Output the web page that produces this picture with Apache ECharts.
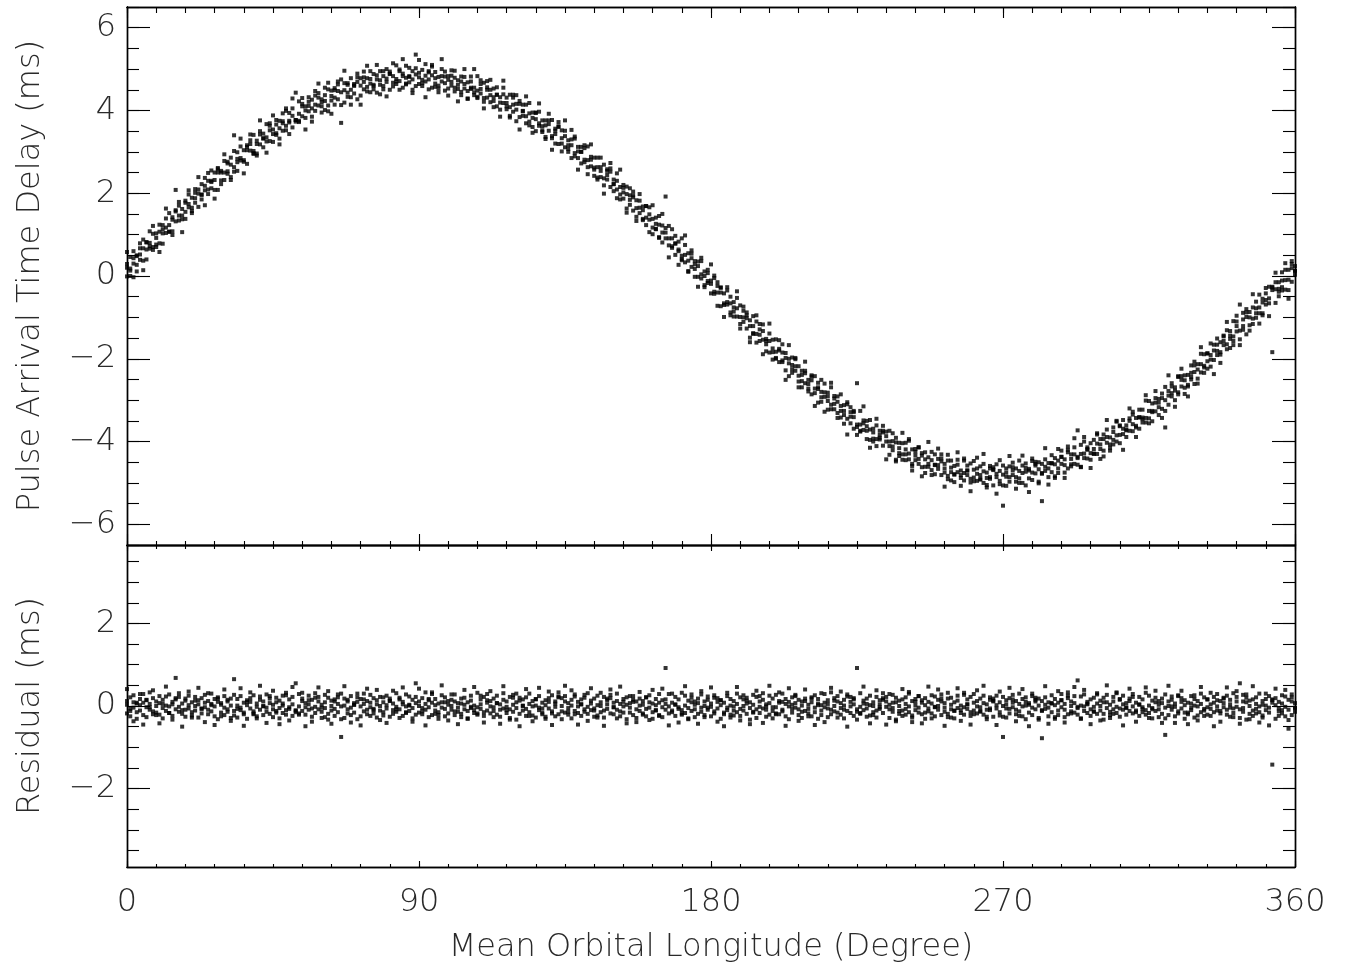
<!DOCTYPE html>
<html><head><meta charset="utf-8">
<script src="https://cdn.jsdelivr.net/npm/echarts@6/dist/echarts.min.js"></script>
<style>html,body{margin:0;padding:0;background:#fff}#chart{width:1348px;height:972px}</style>
</head><body><div id="chart"></div>
<script>
// Mean orbital longitude (degree) of each group of readings
const longitude = [
0,1,2,3,4,5,6,7,8,9,10,11,12,13,14,15,16,17,18,19,20,21,22,23,24,25,26,27,28,29,
30,31,32,33,34,35,36,37,38,39,40,41,42,43,44,45,46,47,48,49,50,51,52,53,54,55,56,57,58,59,
60,61,62,63,64,65,66,67,68,69,70,71,72,73,74,75,76,77,78,79,80,81,82,83,84,85,86,87,88,89,
90,91,92,93,94,95,96,97,98,99,100,101,102,103,104,105,106,107,108,109,110,111,112,113,114,115,116,117,118,119,
120,121,122,123,124,125,126,127,128,129,130,131,132,133,134,135,136,137,138,139,140,141,142,143,144,145,146,147,148,149,
150,151,152,153,154,155,156,157,158,159,160,161,162,163,164,165,166,167,168,169,170,171,172,173,174,175,176,177,178,179,
180,181,182,183,184,185,186,187,188,189,190,191,192,193,194,195,196,197,198,199,200,201,202,203,204,205,206,207,208,209,
210,211,212,213,214,215,216,217,218,219,220,221,222,223,224,225,226,227,228,229,230,231,232,233,234,235,236,237,238,239,
240,241,242,243,244,245,246,247,248,249,250,251,252,253,254,255,256,257,258,259,260,261,262,263,264,265,266,267,268,269,
270,271,272,273,274,275,276,277,278,279,280,281,282,283,284,285,286,287,288,289,290,291,292,293,294,295,296,297,298,299,
300,301,302,303,304,305,306,307,308,309,310,311,312,313,314,315,316,317,318,319,320,321,322,323,324,325,326,327,328,329,
330,331,332,333,334,335,336,337,338,339,340,341,342,343,344,345,346,347,348,349,350,351,352,353,354,355,356,357,358,359,
360];

// Pulse arrival time delay (ms), readings at each longitude above
const delayMs = [
[.29,-.01,.20],[.18,.46,0],[.43,.30,.60],[.27,.48,.11],[.67,.52,.39],[.37,.67,.88],[.64,.81,.40],[.80,.66,1.08],[.63,1.02,.70],[.92,1.03,.76],
[1.24,1.07,.79],[1.03,1.23,.78],[1.17,1.39,1.04],[1.52,1.23,1.07],[1.42,1.36,1.08],[1.56,1.32,2.08],[1.34,1.46,1.79],[1.37,1.62,1.46],[1.77,1.38,1.82],[1.66,1.74,1.97],
[1.57,1.89,1.65],[1.88,2.10,1.77],[1.67,2.09,1.99],[1.96,2.22,1.85],[2.37,2.07,2.18],[1.98,2.30,2.09],[2.55,2.12,2.30],[2.08,2.50,2.32],[2.50,2.08,2.61],[2.50,2.31,2.54],
[2.50,2.78,2.32],[2.76,2.53,2.72],[2.39,2.69,2.86],[2.63,2.52,3.40],[2.54,2.83,2.99],[2.79,2.85,3.13],[2.80,3.04,2.76],[3.16,3.04,2.71],[3.28,3.03,3.19],[3.02,3.41,2.97],
[3.27,3.19,2.96],[3.50,3.18,3.42],[3.33,3.11,3.44],[3.67,3.25,3.35],[3.52,3.26,3.63],[3.24,3.54,3.43],[3.77,3.45,3.66],[3.32,3.75,3.57],[3.93,3.51,3.69],[3.63,4.05,3.52],
[3.75,3.94,3.71],[3.87,3.59,4.05],[3.73,4.43,3.77],[4.22,3.92,3.75],[4.10,3.86,4.16],[4.00,4.10,3.82],[4.32,3.98,4.11],[3.85,4.26,4.05],[4.47,3.99,4.14],[4.31,4.42,4.12],
[3.95,4.27,4.10],[4.55,4.23,4.37],[3.98,4.51,4.12],[4.48,4.35,4.24],[4.54,4.14,4.31],[4.63,4.47,4.27],[4.75,4.44,3.70],[4.66,4.49,4.19],[4.62,4.43,4.66],[4.32,4.78,4.50],
[4.64,4.41,4.60],[4.80,4.27,4.69],[4.60,4.78,4.36],[4.69,4.51,4.94],[4.57,4.78,4.46],[4.76,4.65,4.95],[4.51,4.88,4.62],[4.75,4.85,4.43],[4.62,4.95,4.73],[4.59,4.83,4.51],
[5.00,4.77,4.69],[4.94,4.50,4.89],[4.67,4.83,4.58],[5.09,4.76,4.64],[4.99,4.71,4.95],[4.55,4.83,4.89],[4.63,4.79,5.08],[4.68,5.03,4.81],[4.50,4.95,4.75],[4.59,4.87,5.35],
[4.64,4.91,4.80],[4.66,4.98,4.59],[5.12,4.70,4.84],[4.51,4.92,4.75],[5.06,4.85,4.55],[4.65,4.78,4.93],[4.44,4.81,4.60],[5.00,4.70,4.83],[4.48,4.94,4.66],[4.74,4.53,4.83],
[4.60,4.84,4.69],[4.46,4.79,4.96],[4.52,4.62,4.73],[4.45,4.82,4.37],[4.64,4.53,4.81],[4.47,4.68,4.29],[4.70,4.52,4.82],[4.37,4.55,4.44],[4.83,4.30,4.48],[4.64,4.41,4.52],
[4.21,4.67,4.30],[4.50,4.31,4.71],[4.37,4.20,4.50],[4.23,4.53,4.32],[4.38,4.10,4.56],[4.19,4.32,4.02],[4.39,4.18,4.55],[4.03,4.18,4.31],[4.38,4.08,3.87],[4.14,3.97,4.38],
[4.02,4.16,3.74],[4.23,3.84,4.16],[3.98,3.87,4.14],[3.69,3.86,4.14],[3.93,3.73,4.18],[3.82,3.60,3.95],[3.50,3.79,3.95],[3.63,3.69,3.97],[3.52,3.76,3.48],[3.76,3.64,3.31],
[3.76,3.51,3.67],[3.38,3.77,3.33],[3.51,3.43,3.20],[3.62,3.72,3.19],[3.52,3.20,3.33],[3.38,3.11,3.51],[3.28,3.00,3.16],[3.30,2.85,3.16],[3.32,2.97,3.37],[3.01,2.85,3.12],
[3.00,2.72,3.12],[2.81,3.09,2.75],[2.80,3.13,2.63],[2.81,2.65,2.88],[2.42,2.86,2.62],[2.63,2.86,2.38],[2.63,2.39,2.54],[2.69,2.36,2.19],[2.54,2.44,2.33],[2.52,2.15,2.60],
[2.22,2.33,2.05],[2.30,2.09,2.48],[1.97,2.15,1.85],[2.20,2.02,2.13],[1.63,2.16,1.98],[1.72,1.95,1.84],[2.04,1.58,1.95],[1.64,1.83,1.43],[1.65,1.82,1.52],[1.68,1.38,1.59],
[1.41,1.69,1.23],[1.49,1.36,1.66],[1.17,1.38,1.01],[1.41,1.26,1.13],[.94,1.24,1.45],[1.05,1.22,.81],[1.05,.91,1.92],[.74,.91,1.21],[.72,.91,.68],[.97,.51,.79],
[.60,.83,.64],[.38,.91,.49],[.51,.33,.75],[.37,.55,.12],[.43,.22,.54],[.17,.28,-.02],[.35,-.02,.24],[.04,-.06,.36],[.11,-.22,0],[.07,-.17,.15],
[-.42,-.19,-.11],[-.43,.01,-.38],[-.24,-.40,-.15],[-.73,-.40,-.28],[-.70,-.42,-.66],[-.35,-.63,-.69],[-.50,-.66,-.95],[-.63,-.98,-.76],[-.53,-.98,-.78],[-.71,-.99,-1.16],
[-.84,-1.11,-1.00],[-.95,-1.27,-.88],[-1.49,-1.07,-1.21],[-.97,-1.38,-1.21],[-1.61,-1.40,-1.10],[-1.29,-1.42,-1.57],[-1.17,-1.54,-1.33],[-1.82,-1.52,-1.65],[-1.39,-1.85,-1.57],[-1.75,-1.54,-1.84],
[-1.98,-1.53,-1.83],[-1.80,-2.08,-1.76],[-2.04,-1.65,-2.08],[-1.98,-2.28,-1.86],[-2.11,-2.00,-2.42],[-1.97,-2.15,-2.34],[-2.18,-2.29,-2.01],[-2.55,-2.18,-2.41],[-2.29,-2.69,-2.39],[-2.29,-2.59,-2.35],
[-2.72,-2.51,-2.61],[-2.40,-2.86,-2.52],[-2.72,-2.42,-2.83],[-2.69,-3.06,-2.58],[-2.80,-2.93,-3.04],[-2.81,-2.60,-2.92],[-2.82,-3.23,-2.91],[-3.11,-2.69,-3.22],[-2.90,-3.22,-3.09],[-3.04,-3.31,-2.91],
[-3.14,-3.42,-3.26],[-3.12,-3.57,-3.26],[-3.10,-3.45,-3.05],[-3.40,-3.56,-3.29],[-3.41,-3.69,-3.29],[-3.59,-2.59,-3.65],[-3.59,-3.26,-3.76],[-3.56,-3.72,-3.49],[-3.94,-3.50,-3.74],[-3.71,-3.48,-3.96],
[-3.69,-3.93,-3.78],[-3.61,-3.94,-4.11],[-3.74,-3.84,-3.95],[-3.74,-3.62,-4.10],[-4.00,-3.87,-3.76],[-4.11,-4.32,-4.00],[-4.21,-3.80,-4.12],[-4.02,-4.44,-3.91],[-4.35,-4.03,-4.16],[-4.31,-4.04,-4.44],
[-4.31,-4.03,-4.19],[-4.43,-3.98,-4.29],[-4.54,-4.19,-4.59],[-4.34,-4.18,-4.45],[-4.42,-4.14,-4.54],[-4.34,-4.62,-4.28],[-4.43,-4.76,-4.26],[-4.54,-4.38,-4.61],[-4.25,-4.69,-4.45],[-4.56,-4.79,-4.31],
[-4.66,-4.42,-4.57],[-4.81,-4.48,-4.31],[-4.75,-4.65,-4.54],[-4.83,-4.46,-4.91],[-4.63,-4.74,-4.46],[-4.80,-4.59,-4.98],[-4.56,-4.74,-4.44],[-4.88,-4.70,-4.81],[-4.41,-4.94,-4.76],[-4.58,-4.81,-4.70],
[-4.99,-4.53,-4.90],[-4.68,-4.87,-4.47],[-4.78,-4.95,-4.65],[-4.90,-4.60,-4.81],[-4.72,-5.00,-4.54],[-4.88,-4.75,-5.05],[-4.65,-4.86,-4.90],[-4.67,-5.06,-4.62],[-4.86,-4.78,-4.55],[-5.03,-4.71,-4.95],
[-4.80,-4.58,-5.55],[-5.07,-4.65,-4.75],[-4.86,-4.60,-4.97],[-4.51,-4.81,-4.70],[-4.97,-4.65,-4.86],[-4.46,-4.89,-4.71],[-5.00,-4.58,-4.76],[-4.64,-5.06,-4.53],[-4.70,-4.89,-4.66],[-4.75,-4.47,-4.93],
[-4.54,-4.77,-4.58],[-4.97,-4.67,-4.50],[-4.78,-4.54,-5.44],[-4.61,-4.71,-4.43],[-4.86,-4.52,-4.65],[-4.33,-4.74,-4.53],[-4.88,-4.40,-4.55],[-4.65,-4.76,-4.46],[-4.22,-4.54,-4.37],[-4.75,-4.43,-4.57],
[-4.12,-4.65,-4.26],[-4.55,-4.42,-4.31],[-4.54,-4.14,-4.31],[-4.56,-4.40,-3.73],[-4.61,-4.30,-4.08],[-4.40,-4.00,-4.29],[-4.41,-4.14,-4.20],[-4.44,-4.04,-4.28],[-3.96,-4.30,-4.18],[-3.80,-4.30,-4.05],
[-4.18,-4.07,-3.94],[-4.22,-3.83,-4.36],[-3.89,-4.03,-3.71],[-4.07,-3.90,-4.22],[-3.96,-3.66,-3.77],[-3.85,-4.00,-3.52],[-3.84,-3.63,-4.04],[-3.69,-3.82,-3.48],[-3.89,-3.61,-3.71],[-3.44,-3.74,-3.50],
[-3.75,-3.58,-3.28],[-3.62,-3.43,-3.66],[-3.23,-3.69,-3.41],[-3.46,-3.23,-3.42],[-3.54,-3.01,-3.43],[-3.26,-3.44,-3.02],[-3.26,-3.08,-3.51],[-3.06,-3.27,-2.95],[-3.17,-3.06,-3.36],[-2.84,-3.21,-2.95],
[-3.00,-3.66,-2.68],[-2.78,-3.11,-2.89],[-2.67,-2.91,-2.59],[-3.00,-2.77,-2.69],[-2.86,-2.42,-2.81],[-2.51,-2.67,-2.42],[-2.85,-2.52,-2.40],[-2.67,-2.39,-2.63],[-2.16,-2.44,-2.50],[-2.16,-2.32,-2.61],
[-2.13,-2.48,-2.26],[-1.88,-2.33,-2.13],[-1.89,-2.17,-2.34],[-1.87,-2.06,-1.87],[-2.02,-1.91,-2.19],[-1.66,-2.03,-1.80],[-1.91,-1.51,-1.81],[-1.90,-1.60,-1.84],[-1.46,-1.67,-1.57],[-1.77,-1.31,-1.65],
[-1.44,-1.74,-1.33],[-1.46,-1.09,-1.57],[-1.34,-1.21,-1.10],[-1.32,-1.53,-.69],[-1.30,-.89,-1.21],[-.99,-1.41,-.88],[-1.19,-.87,-1.00],[-1.03,-.76,-1.16],[-.90,-.62,-.78],[-.90,-.45,-.76],
[-.90,-.55,-.95],[-.58,-.42,-.69],[-.54,-.26,-.66],[-.34,-1.84,-.28],[-.32,-.65,-.15],[-.31,-.15,-.38],[.09,-.35,-.11],[-.10,-.33,.15],[-.09,.15,-.55],[-.14,.19,.36],
[.03,.13,.24]];

// A fourth, more scattered delay reading (ms) at each longitude
const delayExtraMs = [
.58,.13,-.03,.50,.79,.14,.82,.72,1.21,.70, .58,1.13,1.63,1.07,.99,1.59,1.70,1.06,1.55,2.07,
1.52,2.01,2.39,1.97,1.71,2.49,2.27,1.87,2.58,2.22, 2.94,2.47,2.32,3.02,2.75,3.32,2.48,3.12,3.42,2.95,
2.91,3.76,3.32,2.98,3.69,3.88,3.41,3.18,3.74,3.99, 3.43,4.29,3.77,3.72,4.30,3.54,4.21,3.73,4.36,4.65,
4.20,4.01,4.67,3.92,4.49,4.70,4.13,4.96,4.33,4.14, 4.60,4.89,4.14,4.80,5.08,4.44,4.59,5.10,4.39,4.95,
4.34,4.88,5.14,4.70,4.50,5.24,4.65,4.83,4.42,5.02, 5.22,4.74,4.32,4.95,5.10,4.57,4.53,5.24,4.82,4.36,
4.97,4.55,4.22,4.70,5.00,4.28,4.55,5.00,4.33,4.73, 4.05,4.56,4.74,4.08,4.38,3.85,4.72,4.10,3.83,4.31,
4.37,3.54,3.99,4.34,3.64,3.46,3.94,4.17,3.62,3.36, 3.92,3.05,3.56,3.60,3.01,3.76,3.07,3.53,2.89,2.57,
3.00,3.16,2.46,3.18,2.57,2.33,2.86,1.99,2.58,2.73, 2.22,1.88,2.57,1.87,1.53,2.12,1.90,1.33,1.98,1.35,
1.69,1.06,1.71,1.14,.92,1.50,1.16,.45,1.13,.78, .27,.41,.98,.10,.62,.36,-.26,.44,-.27,-.12,
.28,-.05,-.72,-.28,-.99,-.27,-.88,-.86,-.37,-1.27, -.74,-1.02,-1.60,-1.40,-.95,-1.16,-1.89,-1.57,-1.15,-2.02,
-2.00,-1.55,-1.85,-2.51,-1.67,-2.25,-1.98,-2.69,-2.54,-2.07, -2.79,-2.43,-3.14,-2.73,-2.51,-3.28,-3.02,-2.58,-2.96,-3.43,
-2.86,-3.36,-3.83,-3.17,-3.26,-3.84,-3.74,-3.15,-3.63,-4.15, -4.00,-3.45,-3.91,-3.78,-4.43,-3.74,-3.99,-4.48,-4.28,-3.79,
-4.45,-3.94,-4.70,-4.25,-4.14,-4.84,-4.61,-4.01,-4.81,-4.57, -4.17,-4.41,-5.09,-4.32,-4.94,-4.79,-4.26,-5.07,-4.46,-4.70,
-5.20,-4.96,-4.39,-4.92,-4.30,-5.11,-4.59,-4.69,-5.26,-4.45, -5.06,-4.85,-4.35,-4.62,-5.14,-5.00,-4.34,-4.73,-5.22,-4.41,
-4.49,-5.01,-4.76,-4.16,-5.04,-4.52,-4.84,-4.18,-4.37,-4.88, -4.20,-4.60,-3.92,-4.37,-4.62,-3.89,-4.18,-4.64,-4.29,-3.83,
-4.42,-3.94,-3.48,-4.15,-4.07,-3.50,-3.61,-4.20,-3.73,-3.20, -3.35,-3.89,-3.42,-3.54,-2.88,-3.56,-3.29,-2.78,-2.97,-3.43,
-3.26,-2.40,-2.83,-3.16,-2.44,-2.24,-2.70,-2.91,-2.34,-2.07, -2.60,-1.72,-2.21,-2.24,-1.63,-2.37,-1.66,-2.10,-1.44,-1.11,
-1.52,-1.67,-.96,-1.67,-1.05,-.80,-1.32,-.44,-1.01,-1.15, -.64,-.29,-.97,-.26,.08,-.49,-.27,.31,-.34,.29,
.12];

// Residual (ms), readings at each longitude above
const residualMs = [
[.12,-.18,.03],[-.07,.21,-.25],[.09,-.04,.26],[-.15,.06,-.31],[.17,.02,-.11],[-.22,.08,.29],[-.03,.14,-.27],[.05,-.09,.33],[-.2,.19,-.13],[0,.11,-.16],
[.24,.07,-.21],[-.05,.15,-.3],[.01,.23,-.12],[.28,-.01,-.17],[.1,.04,-.24],[.16,-.08,.68],[-.14,-.02,.31],[-.19,.06,-.1],[.13,-.26,.18],[-.06,.02,.25],
[-.23,.09,-.15],[0,.22,-.11],[-.28,.14,.04],[-.07,.19,-.18],[.27,-.03,.08],[-.2,.12,-.09],[.3,-.13,.05],[-.25,.17,-.01],[.1,-.32,.21],[.03,-.16,.07],
[-.04,.24,-.22],[.15,-.08,.11],[-.29,.01,.18],[-.12,-.23,.65],[-.28,.01,.17],[-.1,-.04,.24],[-.16,.08,-.2],[.14,.02,-.31],[.19,-.06,.1],[-.13,.26,-.18],
[.06,-.02,-.25],[.23,-.09,.15],[0,-.22,.11],[.28,-.14,-.04],[.07,-.19,.18],[-.27,.03,-.08],[.2,-.12,.09],[-.3,.13,-.05],[.25,-.17,.01],[-.1,.32,-.21],
[-.03,.16,-.07],[.04,-.24,.22],[-.15,.55,-.11],[.29,-.01,-.18],[.12,-.12,.18],[-.03,.07,-.21],[.25,-.09,.04],[-.26,.15,-.06],[.31,-.17,-.02],[.11,.22,-.08],
[-.29,.03,-.14],[.27,-.05,.09],[-.33,.2,-.19],[.13,0,-.11],[.16,-.24,-.07],[.21,.05,-.15],[.3,-.01,-.75],[.18,.01,-.29],[.11,-.08,.15],[-.22,.24,-.04],
[.07,-.16,.03],[.21,-.32,.1],[-.01,.17,-.25],[.05,-.13,.3],[-.09,.12,-.2],[.08,-.03,.27],[-.18,.19,-.07],[.04,.14,-.28],[-.11,.22,0],[-.15,.09,-.23],
[.25,.02,-.06],[.18,-.26,.13],[-.1,.06,-.19],[.31,-.02,-.14],[.2,-.08,.16],[-.24,.04,.1],[-.17,-.01,.28],[-.12,.23,.01],[-.3,.15,-.05],[-.21,.07,.55],
[-.16,.11,0],[-.13,.19,-.2],[.33,-.09,.05],[-.27,.14,-.03],[.29,.08,-.22],[-.11,.02,.17],[-.31,.06,-.15],[.26,-.04,.09],[-.25,.21,-.07],[.03,-.18,.12],
[-.09,.15,0],[-.22,.11,.28],[-.14,-.04,.07],[-.19,.18,-.27],[.03,-.08,.2],[-.12,.09,-.3],[.13,-.05,.25],[-.17,.01,-.1],[.32,-.21,-.03],[.16,-.07,.04],
[-.24,.22,-.15],[.08,-.11,.29],[-.01,-.18,.12],[-.12,.18,-.03],[.07,-.21,.25],[-.09,.04,-.26],[.15,-.06,.31],[-.17,-.02,.11],[.22,-.08,-.29],[.03,-.14,.27],
[-.05,.09,-.33],[.2,-.19,.13],[0,-.11,.16],[-.24,-.07,.21],[.05,-.15,.3],[-.01,-.23,.12],[-.28,.01,.17],[-.1,-.04,.24],[-.16,.08,-.2],[.14,.02,-.31],
[.19,-.06,.1],[-.13,.26,-.18],[.06,-.02,-.25],[.23,.33,-.2],[.19,-.13,0],[.11,-.16,.24],[.07,-.21,-.05],[.15,-.3,.01],[.23,-.12,.28],[-.01,-.17,.1],
[.04,-.24,.16],[-.08,.2,-.14],[-.02,.31,-.19],[.06,-.1,.13],[-.26,.18,-.06],[.02,.25,-.23],[.09,-.15,0],[.22,-.11,-.28],[.14,.04,-.07],[.19,-.18,.27],
[-.03,.08,-.2],[.12,-.09,.3],[-.13,.05,-.25],[.17,-.01,.1],[-.32,.21,.03],[-.16,.07,-.04],[.24,-.22,.15],[-.08,.11,-.29],[.01,.18,-.12],[.12,-.18,.03],
[-.07,.21,-.25],[.09,-.04,.26],[-.15,.06,-.31],[.17,.02,-.11],[-.22,.08,.29],[-.03,.14,-.27],[.05,-.09,.92],[-.18,-.01,.29],[-.11,.08,-.15],[.22,-.24,.04],
[-.07,.16,-.03],[-.21,.32,-.1],[.01,-.17,.25],[-.05,.13,-.3],[.09,-.12,.2],[-.08,.03,-.27],[.18,-.19,.07],[-.04,-.14,.28],[.11,-.22,0],[.15,-.09,.23],
[-.25,-.02,.06],[-.18,.26,-.13],[.1,-.06,.19],[-.31,.02,.14],[-.2,.08,-.16],[.24,-.04,-.1],[.17,.01,-.28],[.12,-.23,-.01],[.3,-.15,.05],[.21,-.07,-.24],
[.16,-.11,0],[.13,-.19,.2],[-.33,.09,-.05],[.27,-.14,.03],[-.29,-.08,.22],[.11,-.02,-.17],[.31,-.06,.15],[-.26,.04,-.09],[.25,-.21,.07],[-.03,.18,-.12],
[-.18,.27,-.03],[.08,-.2,.12],[-.09,.3,-.13],[.05,-.25,.17],[-.01,.1,-.32],[.21,.03,-.16],[.07,-.04,.24],[-.22,.15,-.08],[.11,-.29,.01],[.18,-.12,.12],
[-.18,.03,-.07],[.21,-.25,.09],[-.04,.26,-.15],[.06,-.31,.17],[.02,-.11,-.22],[.08,.29,-.03],[.14,-.27,.05],[-.09,.33,-.2],[.19,-.13,0],[.11,-.16,.24],
[.07,-.21,-.05],[.15,-.3,.01],[.23,-.12,.28],[-.01,-.17,.1],[.04,-.24,.16],[-.08,.92,-.14],[-.02,.31,-.19],[.06,-.1,.13],[-.26,.18,-.06],[.02,.25,-.23],
[.09,-.15,0],[.22,-.11,-.28],[.14,.04,-.07],[.19,.31,-.17],[-.02,.11,.22],[-.08,-.29,.03],[-.14,.27,-.05],[.09,-.33,.2],[-.19,.13,0],[-.11,.16,-.24],
[-.07,.21,.05],[-.15,.3,-.01],[-.23,.12,-.28],[.01,.17,-.1],[-.04,.24,-.16],[.08,-.2,.14],[.02,-.31,.19],[-.06,.1,-.13],[.26,-.18,.06],[-.02,-.25,.23],
[-.09,.15,0],[-.22,.11,.28],[-.14,-.04,.07],[-.19,.18,-.27],[.03,-.08,.2],[-.12,.09,-.3],[.13,-.05,.25],[-.17,.01,-.1],[.32,-.21,-.03],[.16,-.07,.04],
[-.24,.22,-.15],[.08,-.11,.29],[-.01,-.18,.12],[-.12,.18,-.03],[.07,-.21,.25],[-.09,.04,-.26],[.15,-.06,-.1],[.13,-.26,.18],[-.06,.02,.25],[-.23,.09,-.15],
[0,.22,-.75],[-.28,.14,.04],[-.07,.19,-.18],[.27,-.03,.08],[-.2,.12,-.09],[.3,-.13,.05],[-.25,.17,-.01],[.1,-.32,.21],[.03,-.16,.07],[-.04,.24,-.22],
[.15,-.08,.11],[-.29,.01,.18],[-.12,.12,-.78],[.03,-.07,.21],[-.25,.09,-.04],[.26,-.15,.06],[-.31,.17,.02],[-.11,-.22,.08],[.29,-.03,.14],[-.27,.05,-.09],
[.33,-.2,.19],[-.13,0,.11],[-.16,.24,.07],[-.21,-.05,.62],[-.3,.01,.23],[-.12,.28,-.01],[-.17,.1,.04],[-.24,.16,-.08],[.2,-.14,-.02],[.31,-.19,.06],
[-.11,0,.13],[-.19,.2,-.33],[.09,-.05,.27],[-.14,.03,-.29],[-.08,.22,.11],[-.02,-.17,.31],[-.06,.15,-.26],[.04,-.09,.25],[-.21,.07,-.03],[.18,-.12,.12],
[-.18,-.01,.29],[-.11,.08,-.15],[.22,-.24,.04],[-.07,.16,-.03],[-.21,.32,-.1],[.01,-.17,.25],[-.05,.13,-.3],[.09,-.12,.2],[-.08,.03,-.27],[.18,-.19,.07],
[-.04,-.7,.28],[.11,-.22,0],[.15,-.09,.23],[-.25,-.02,.06],[-.18,.26,-.13],[.1,-.06,.19],[-.31,.02,.14],[-.2,.08,-.16],[.24,-.04,-.1],[.17,.01,-.28],
[.12,-.23,-.01],[.3,-.15,.05],[.21,-.07,-.24],[.16,-.03,.16],[-.07,.04,-.24],[.22,-.15,.08],[-.11,.29,-.01],[-.18,.12,-.12],[.18,-.03,.07],[-.21,.25,-.09],
[.04,-.26,.15],[-.06,.31,-.17],[-.02,.11,.22],[-.08,-.29,.55],[-.14,.27,-.05],[.09,-.33,.2],[-.19,.13,0],[-.11,.16,-.24],[-.07,.21,.05],[-.15,.3,-.01],
[-.23,.12,-.28],[.01,.17,-.1],[-.04,.24,-.16],[.08,-1.42,.14],[.02,-.31,.19],[-.06,.1,-.13],[.26,-.18,.06],[-.02,-.25,.23],[-.09,.15,-.55],[-.22,.11,.28],
[-.14,-.04,.07]];

// A fourth, more scattered residual reading (ms) at each longitude
const residualExtraMs = [
.41,-.12,-.37,.08,.29,-.45,.15,-.03,.38,-.22, -.42,.05,.47,-.17,-.33,.19,.22,-.5,-.09,.35,
-.28,.13,.44,-.06,-.39,.31,.02,-.46,.18,-.25, .4,-.14,-.36,.27,-.07,.43,-.48,.1,.33,-.2,
-.3,.49,-.01,-.41,.24,.37,-.16,-.44,.06,.26, -.35,.46,-.11,-.21,.32,-.49,.14,-.38,.2,.45,
-.04,-.27,.36,-.43,.11,.28,-.32,.48,-.18,-.4, .03,.3,-.47,.16,.42,-.24,-.1,.39,-.34,.21,
-.41,.12,.37,-.08,-.29,.45,-.15,.03,-.38,.22, .42,-.05,-.47,.17,.33,-.19,-.22,.5,.09,-.35,
.28,-.13,-.44,.06,.39,-.31,-.02,.46,-.18,.25, -.4,.14,.36,-.27,.07,-.43,.48,-.1,-.33,.2,
.3,-.49,.01,.41,-.24,-.37,.16,.44,-.06,-.26, .35,-.46,.11,.21,-.32,.49,-.14,.38,-.2,-.45,
.04,.27,-.36,.43,-.11,-.28,.32,-.48,.18,.4, -.03,-.3,.47,-.16,-.42,.24,.1,-.39,.34,-.21,
.21,-.34,.39,-.1,-.24,.42,.16,-.47,.3,.03, -.4,-.18,.48,-.32,.28,.11,-.43,.36,-.27,-.04,
.45,.2,-.38,.14,-.49,.32,-.21,-.11,.46,-.35, .26,.06,-.44,-.16,.37,.24,-.41,-.01,.49,-.3,
-.2,.33,.1,-.48,.43,-.07,.27,-.36,-.14,.4, -.25,.18,-.46,.02,.31,-.39,-.06,.44,.13,-.28,
.35,-.09,-.5,.22,.19,-.33,-.17,.47,.05,-.42, -.22,.38,-.03,.15,-.45,.29,.08,-.37,-.12,.41,
-.21,.34,-.39,.1,.24,-.42,-.16,.47,-.3,-.03, .4,.18,-.48,.32,-.28,-.11,.43,-.36,.27,.04,
-.45,-.2,.38,-.14,.49,-.32,.21,.11,-.46,.35, -.26,-.06,.44,.16,-.37,-.24,.41,.01,-.49,.3,
.2,-.33,-.1,.48,-.43,.07,-.27,.36,.14,-.4, .25,-.18,.46,-.02,-.31,.39,.06,-.44,-.13,.28,
-.35,.09,.5,-.22,-.19,.33,.17,-.47,-.05,.42, .22,-.38,.03,-.15,.45,-.29,-.08,.37,.12,-.41,
-.3,.49,-.01,-.41,.24,.37,-.16,-.44,.06,.26, -.35,.46,-.11,-.21,.32,-.49,.14,-.38,.2,.45,
-.04,-.27,.36,-.43,.11,.28,-.32,.48,-.18,-.4, .03,.3,-.47,.16,.42,-.24,-.1,.39,-.34,.21,
-.05];

// Tick values
const delayMajorTicks = [-6,-4,-2,0,2,4,6];
const delayMinorTicks = [-6.5,-6,-5.5,-5,-4.5,-4,-3.5,-3,-2.5,-2,-1.5,-1,-0.5,0,0.5,1,1.5,2,2.5,3,3.5,4,4.5,5,5.5,6,6.5];
const residualMajorTicks = [-2,0,2];
const residualMinorTicks = [-3.5,-3,-2.5,-2,-1.5,-1,-0.5,0,0.5,1,1.5,2,2.5,3,3.5];
const longitudeMajorTicks = [0,90,180,270,360];
const longitudeMinorTicks = [0,9,18,27,36,45,54,63,72,81,90,99,108,117,126,135,144,153,162,171,180,
  189,198,207,216,225,234,243,252,261,270,279,288,297,306,315,324,333,342,351,360];

const FONT = "'DejaVu Sans', sans-serif";
const TXT = {fontFamily: FONT, fontSize: 32, fontWeight: 200, color: '#2a2a2a'};
const LINE = {color: '#000', width: 1.4};
const TICK = {color: '#000', width: 1.1};

function toPoints(rows, extra) {
  const out = [];
  rows.forEach((row, i) => row.forEach(v => out.push([longitude[i], v])));
  extra.forEach((v, i) => out.push([longitude[i], v]));
  return out;
}
const fmt = v => (v < 0 ? '\u2212' : '') + Math.abs(v);

function xAx(gridIndex, position, ticks, len, label) {
  return {
    type: 'value', gridIndex, position, offset: 0, min: 0, max: 360,
    axisLine: {show: true, onZero: false, lineStyle: LINE},
    axisTick: {show: true, inside: true, length: len, lineStyle: TICK, customValues: ticks},
    axisLabel: label ? Object.assign({show: true, margin: 20, customValues: longitudeMajorTicks, showMinLabel: true, showMaxLabel: true}, TXT) : {show: false},
    splitLine: {show: false},
    name: label ? 'Mean Orbital Longitude (Degree)' : '',
    nameLocation: 'middle', nameGap: 65, nameTextStyle: TXT, nameMoveOverlap: false
  };
}

function yAx(gridIndex, position, min, max, ticks, len, labels, name) {
  return {
    type: 'value', gridIndex, position, offset: 0, min, max,
    axisLine: {show: true, onZero: false, lineStyle: LINE},
    axisTick: {show: true, inside: true, length: len, lineStyle: TICK, customValues: ticks},
    axisLabel: labels ? Object.assign({show: true, margin: 11, customValues: labels, formatter: fmt}, TXT) : {show: false},
    splitLine: {show: false},
    name: name || '', nameLocation: 'middle', nameGap: 80, nameRotate: 90, nameTextStyle: TXT, nameMoveOverlap: false
  };
}

const chart = echarts.init(document.getElementById('chart'), null, {renderer: 'canvas'});
chart.setOption({
  animation: false,
  backgroundColor: '#fff',
  grid: [
    {left: 127, right: 53, top: 7, height: 538},
    {left: 127, right: 53, top: 545, height: 322}
  ],
  xAxis: [
    xAx(0, 'bottom', longitudeMinorTicks, 4, false),
    xAx(0, 'bottom', longitudeMajorTicks, 11, false),
    xAx(0, 'top', longitudeMinorTicks, 6, false),
    xAx(0, 'top', longitudeMajorTicks, 11, false),
    xAx(1, 'bottom', longitudeMinorTicks, 3, false),
    xAx(1, 'bottom', longitudeMajorTicks, 6, true),
    xAx(1, 'top', longitudeMinorTicks, 4, false),
    xAx(1, 'top', longitudeMajorTicks, 6, false)
  ],
  yAxis: [
    yAx(0, 'left', -6.5, 6.5, delayMinorTicks, 12, null),
    yAx(0, 'left', -6.5, 6.5, delayMajorTicks, 23, delayMajorTicks, 'Pulse Arrival Time Delay (ms)'),
    yAx(0, 'right', -6.5, 6.5, delayMinorTicks, 12, null),
    yAx(0, 'right', -6.5, 6.5, delayMajorTicks, 23, null),
    yAx(1, 'left', -3.9, 3.9, residualMinorTicks, 12, null),
    yAx(1, 'left', -3.9, 3.9, residualMajorTicks, 23, residualMajorTicks, 'Residual (ms)'),
    yAx(1, 'right', -3.9, 3.9, residualMinorTicks, 12, null),
    yAx(1, 'right', -3.9, 3.9, residualMajorTicks, 23, null)
  ],
  series: [
    {type: 'scatter', xAxisIndex: 0, yAxisIndex: 0, data: toPoints(delayMs, delayExtraMs), symbol: 'rect', symbolSize: 4, itemStyle: {color: '#000'}, silent: true},
    {type: 'scatter', xAxisIndex: 4, yAxisIndex: 4, data: toPoints(residualMs, residualExtraMs), symbol: 'rect', symbolSize: 4, itemStyle: {color: '#000'}, silent: true}
  ]
});
</script>
</body></html>
